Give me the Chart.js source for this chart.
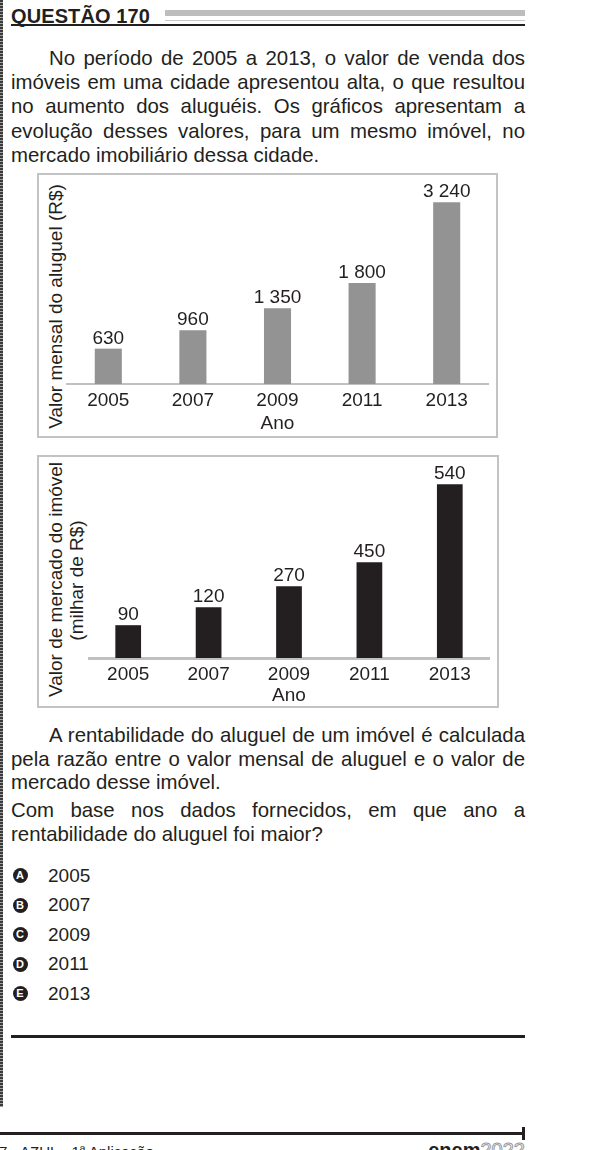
<!DOCTYPE html>
<html lang="pt-BR">
<head>
    <meta charset="UTF-8">
    <title>Questão 170</title>
    <script src="https://cdn.jsdelivr.net/npm/chart.js"></script>
    <style>
        body {
            margin: 0;
            width: 591px;
            height: 1150px;
            overflow: hidden;
            position: relative;
            background: #fff;
            font-family: "Liberation Sans", Arial, sans-serif;
            color: #231f20;
        }
        .abs { position: absolute; }
        .ln {
            position: absolute;
            left: 11px;
            width: 514px;
            font-size: 20.4px;
            line-height: 24px;
        }
        .j { text-align: justify; text-align-last: justify; }
        .ind { text-indent: 38px; }
        .box {
            position: absolute;
            border: 2px solid #c3c3c3;
            box-sizing: border-box;
        }
        .chart { position: absolute; }
        .yt {
            position: absolute;
            width: 280px;
            font-size: 19px;
            line-height: 19px;
            white-space: nowrap;
            text-align: center;
            transform: rotate(-90deg);
        }
        .opt {
            position: absolute;
            left: 48px;
            font-size: 19px;
            line-height: 19px;
        }
        .badge {
            position: absolute;
            left: 12.5px;
            width: 15px;
            height: 15px;
            border-radius: 50%;
            background: #231f20;
            color: #fff;
            font-weight: bold;
            font-size: 11px;
            line-height: 15px;
            text-align: center;
        }
    </style>
</head>
<body>
    <!-- margem pontilhada -->
    <div class="abs" style="left:0;top:0;width:3px;height:1107px;background:repeating-linear-gradient(#3a3a3a 0 2px,#a0a0a0 2px 3px);"></div>

    <div class="abs" style="left:11px;top:5.6px;font-size:20px;line-height:20px;font-weight:bold;letter-spacing:0.1px;">QUESTÃO 170</div>
    <div class="abs" style="left:165px;top:10px;width:360px;height:6px;background:#bdbdbd;"></div>
    <div class="abs" style="left:165px;top:19.5px;width:360px;height:1.5px;background:#c8c8c8;"></div>
    <div class="abs" style="left:11px;top:24px;width:514px;height:2px;background:#231f20;"></div>

    <div class="ln j ind" style="top:46px;">No período de 2005 a 2013, o valor de venda dos</div>
    <div class="ln j" style="top:70.2px;">imóveis em uma cidade apresentou alta, o que resultou</div>
    <div class="ln j" style="top:94.4px;">no aumento dos aluguéis. Os gráficos apresentam a</div>
    <div class="ln j" style="top:118.6px;">evolução desses valores, para um mesmo imóvel, no</div>
    <div class="ln" style="top:142.9px;">mercado imobiliário dessa cidade.</div>

    <div class="box" style="left:37px;top:173px;width:461px;height:265px;"></div>
    <div class="yt" style="left:-85px;top:296.5px;">Valor mensal do aluguel (R$)</div>
    <div class="chart" style="left:66px;top:176px;width:423px;height:257px;">
        <canvas id="grafAluguel"></canvas>
    </div>

    <div class="box" style="left:37px;top:455px;width:462px;height:253px;"></div>
    <div class="yt" style="left:-85px;top:569.5px;">Valor de mercado do imóvel</div>
    <div class="yt" style="left:-63.6px;top:570.5px;">(milhar de R$)</div>
    <div class="chart" style="left:88px;top:457px;width:402px;height:248px;">
        <canvas id="grafMercado"></canvas>
    </div>

    <div class="ln j ind" style="top:722.9px;">A rentabilidade do aluguel de um imóvel é calculada</div>
    <div class="ln j" style="top:746.9px;">pela razão entre o valor mensal de aluguel e o valor de</div>
    <div class="ln" style="top:770.4px;">mercado desse imóvel.</div>
    <div class="ln j" style="top:797.9px;">Com base nos dados fornecidos, em que ano a</div>
    <div class="ln" style="top:821.9px;">rentabilidade do aluguel foi maior?</div>

    <div id="opcoes"></div>

    <div class="abs" style="left:11px;top:1035px;width:514px;height:3px;background:#231f20;"></div>

    <div class="abs" style="left:0;top:1132px;width:525px;height:3px;background:#231f20;"></div>
    <div class="abs" style="left:522px;top:1127px;width:3px;height:13px;background:#231f20;"></div>
    <div class="abs" style="left:-1px;top:1143.5px;font-size:15px;line-height:15px;white-space:nowrap;">7 • AZUL • 1ª Aplicação</div>
    <div class="abs" style="right:66px;top:1140px;font-size:20px;line-height:20px;white-space:nowrap;"><b>enem</b><span style="color:#fff;-webkit-text-stroke:1px #9a9a9a;">2022</span></div>

    <script>
        const anos = ['2005', '2007', '2009', '2011', '2013'];
        const aluguel = [630, 960, 1350, 1800, 3240];
        const mercadoRotulos = [90, 120, 270, 450, 540];
        // the original figure is not drawn to scale: bar lengths as read off it,
        // in units of the tallest (540) bar
        const mercadoBarras = [102, 158, 223, 298, 540];
        const letras = ['A', 'B', 'C', 'D', 'E'];
        const alternativas = ['2005', '2007', '2009', '2011', '2013'];

        const texto = '#231f20';
        Chart.defaults.font.family = '"Liberation Sans", Arial, sans-serif';
        Chart.defaults.color = texto;

        function formatar(n) {
            return String(n).replace(/\B(?=(\d{3})+(?!\d))/g, ' ');
        }

        // value written above each bar
        const rotulosPlugin = {
            id: 'rotulos',
            afterDatasetsDraw(chart, args, opts) {
                const ctx = chart.ctx;
                const meta = chart.getDatasetMeta(0);
                ctx.save();
                ctx.font = '19px "Liberation Sans", Arial, sans-serif';
                ctx.fillStyle = texto;
                ctx.textAlign = 'center';
                ctx.textBaseline = 'alphabetic';
                meta.data.forEach((bar, i) => {
                    ctx.fillText(formatar(opts.valores[i]), bar.x, bar.y - 5);
                });
                ctx.restore();
            }
        };

        function eixoX(padTicks, padTitulo, corBorda, larguraBorda) {
            return {
                grid: { display: false, drawTicks: false },
                border: { display: true, color: corBorda, width: larguraBorda },
                ticks: { padding: padTicks, font: { size: 19, lineHeight: 1 }, color: texto },
                title: {
                    display: true,
                    text: 'Ano',
                    color: texto,
                    font: { size: 19, lineHeight: 1 },
                    padding: { top: padTitulo, bottom: 0 }
                }
            };
        }

        new Chart(document.getElementById('grafAluguel'), {
            type: 'bar',
            data: {
                labels: anos,
                datasets: [{
                    data: aluguel,
                    backgroundColor: '#939393',
                    borderWidth: 0,
                    barPercentage: 0.32,
                    categoryPercentage: 1
                }]
            },
            options: {
                responsive: true,
                maintainAspectRatio: false,
                animation: false,
                layout: { padding: { top: 6, left: 0, right: 0, bottom: 0 } },
                scales: {
                    x: eixoX(7, -3, '#c0c0c0', 2),
                    y: { display: false, min: 0, max: 3600 }
                },
                plugins: {
                    legend: { display: false },
                    tooltip: { enabled: false },
                    rotulos: { valores: aluguel }
                }
            },
            plugins: [rotulosPlugin]
        });

        new Chart(document.getElementById('grafMercado'), {
            type: 'bar',
            data: {
                labels: anos,
                datasets: [{
                    data: mercadoBarras,
                    backgroundColor: '#231f20',
                    borderWidth: 0,
                    barPercentage: 0.32,
                    categoryPercentage: 1
                }]
            },
            options: {
                responsive: true,
                maintainAspectRatio: false,
                animation: false,
                layout: { padding: { top: 8, left: 0, right: 0, bottom: 0 } },
                scales: {
                    x: eixoX(7.5, -6, '#c0c0c0', 3),
                    y: { display: false, min: 0, max: 600 }
                },
                plugins: {
                    legend: { display: false },
                    tooltip: { enabled: false },
                    rotulos: { valores: mercadoRotulos }
                }
            },
            plugins: [rotulosPlugin]
        });

        const opcoes = document.getElementById('opcoes');
        letras.forEach((letra, i) => {
            const base = 882 + i * 29.5;
            const badge = document.createElement('div');
            badge.className = 'badge';
            badge.style.top = (base - 14) + 'px';
            badge.textContent = letra;
            opcoes.appendChild(badge);
            const opt = document.createElement('div');
            opt.className = 'opt';
            opt.style.top = (base - 16.1) + 'px';
            opt.textContent = alternativas[i];
            opcoes.appendChild(opt);
        });
    </script>
</body>
</html>
